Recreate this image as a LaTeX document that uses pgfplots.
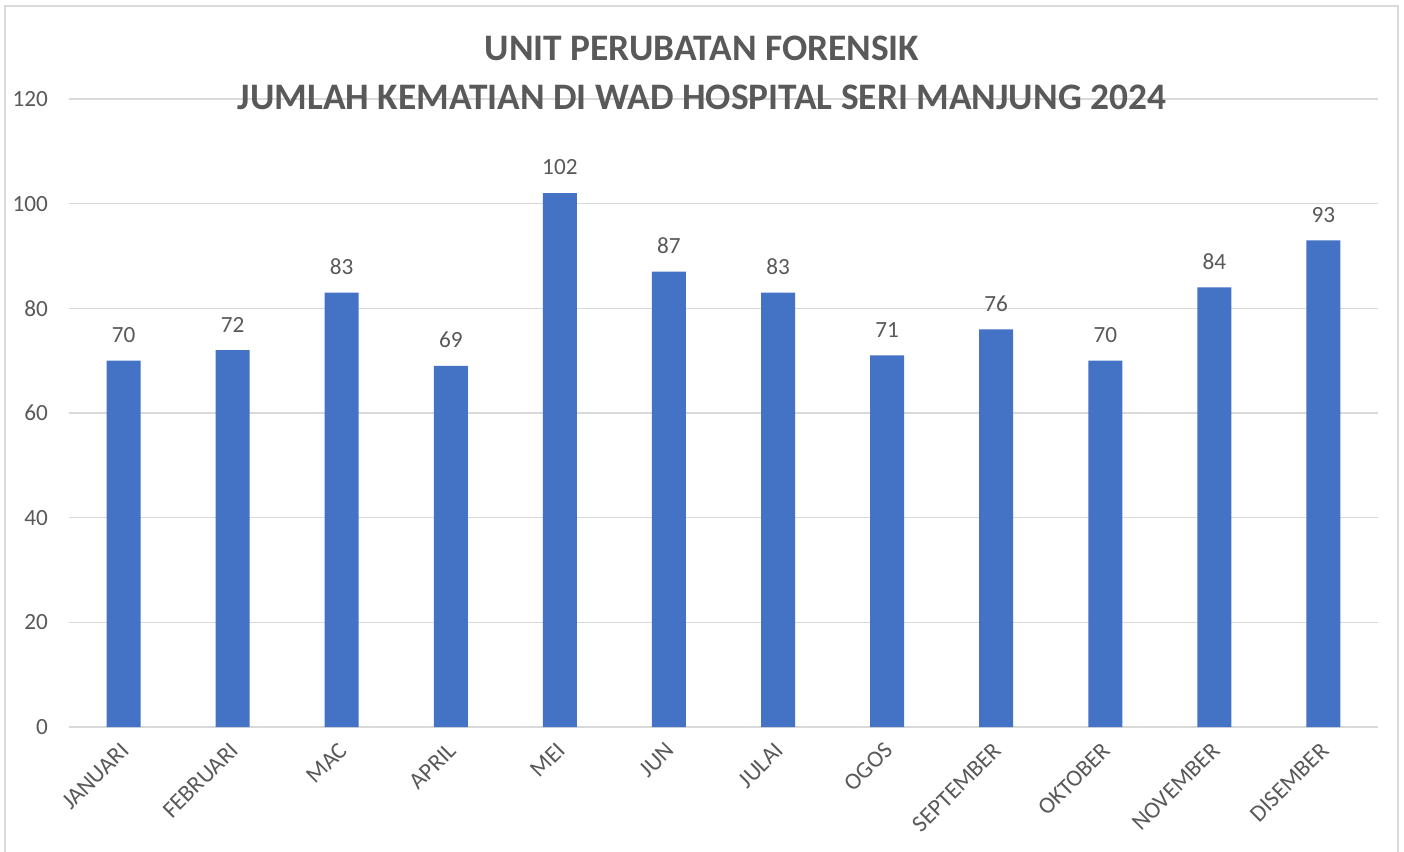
\documentclass[border=0pt]{standalone}
\usepackage{pgfplots}
\pgfplotsset{compat=1.18}
\usepackage{fontspec}
\setmainfont{Carlito}
\definecolor{barblue}{HTML}{4472C4}
\definecolor{txtgray}{HTML}{595959}
\definecolor{gridgray}{HTML}{D9D9D9}
\begin{document}
\begin{tikzpicture}[x=1pt,y=1pt]
\path[use as bounding box] (0,0) rectangle (702,426);
\fill[white] (0,0) rectangle (702,426);
\draw[gridgray, line width=0.8pt] (2.5,-5) -- (2.5,423) -- (699,423) -- (699,-5);
\begin{axis}[
  at={(34.5pt,62.5pt)}, anchor=south west,
  scale only axis, width=654.5pt, height=314pt,
  xmin=-0.5, xmax=11.5, ymin=0, ymax=120,
  ytick={0,20,...,120},
  xtick=data,
  xticklabels={JANUARI,FEBRUARI,MAC,APRIL,MEI,JUN,JULAI,OGOS,SEPTEMBER,OKTOBER,NOVEMBER,DISEMBER},
  xticklabel style={rotate=45, anchor=east, font=\fontsize{11.8}{13}\selectfont, text=txtgray, xshift=-3pt, yshift=-7.5pt},
  yticklabel style={font=\fontsize{11.6}{13}\selectfont, text=txtgray, xshift=-7pt},
  /pgf/number format/assume math mode=true,
  major tick length=0pt,
  ymajorgrids, grid style={gridgray, line width=0.8pt},
  axis x line*=bottom, axis y line*=left,
  x axis line style={gridgray, line width=0.8pt, -},
  y axis line style={draw=none},
  ybar, bar width=17pt,
  nodes near coords,
  every node near coord/.append style={font=\fontsize{11.6}{13}\selectfont, text=txtgray, yshift=5.5pt},
  clip=false,
]
\addplot[fill=barblue, draw=none] coordinates {
(0,70) (1,72) (2,83) (3,69) (4,102) (5,87) (6,83) (7,71) (8,76) (9,70) (10,84) (11,93)};
\end{axis}
\node[font=\fontsize{18.7}{20}\selectfont\bfseries, text=txtgray] at (351,402) {UNIT PERUBATAN FORENSIK};
\node[font=\fontsize{18.7}{20}\selectfont\bfseries, text=txtgray] at (351,377.5) {JUMLAH KEMATIAN DI WAD HOSPITAL SERI MANJUNG 2024};
\end{tikzpicture}
\end{document}
